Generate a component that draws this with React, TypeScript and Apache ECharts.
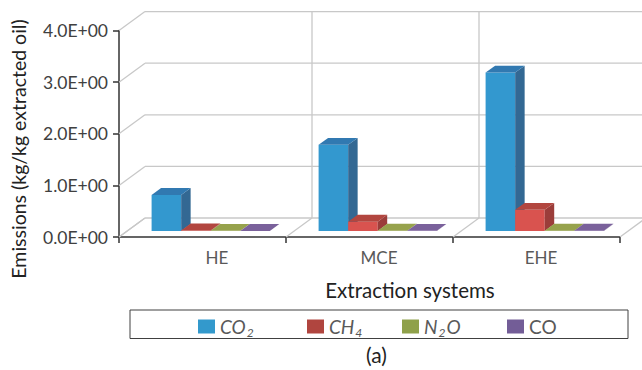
import React, { useEffect, useRef } from "react";
import * as echarts from "echarts";

const categories = ["HE", "MCE", "EHE"];
const seriesNames = ["CO2", "CH4", "N2O", "CO"];
const co2Values = [0.7, 1.67, 3.07];
const ch4Values = [0.01, 0.18, 0.41];
const n2oValues = [0.003, 0.004, 0.005];
const coValues = [0.002, 0.003, 0.004];
const yTicks = [0, 1, 2, 3, 4];

const FONT = "Lato, 'Noto Sans', sans-serif";

// face colours: front, top, side, legend
const palette = [
  { front: "#3398cf", top: "#3179b1", side: "#336893", legend: "#3399cc" },
  { front: "#d9534f", top: "#b2463f", side: "#9b3d3a", legend: "#b0453f" },
  { front: "#a6b55a", top: "#96a24c", side: "#7e8a3e", legend: "#8fa14a" },
  { front: "#8a6fae", top: "#7a619b", side: "#654f82", legend: "#735d97" },
];

const DEPTH_X = 26;
const DEPTH_Y = -19;
const BAR_FRONT = 0.316;
const BAR_DEPTH = 0.365;
const BAR_FRAC = 0.177;

export default function App() {
  const ref = useRef<HTMLDivElement>(null);
  useEffect(() => {
    if (!ref.current) return;
    const chart = echarts.init(ref.current, null, { renderer: "svg" });
    const allValues = [co2Values, ch4Values, n2oValues, coValues];

    const barSeries = seriesNames.map((name, gi) => ({
      type: "custom",
      name,
      coordinateSystem: "cartesian2d",
      clip: false,
      z: 3 + gi,
      itemStyle: { color: palette[gi].legend },
      encode: { x: 0, y: 1 },
      data: allValues[gi].map((v, i) => [i, v]),
      renderItem: (params: any, api: any) => {
        const ci = api.value(0);
        const v = api.value(1);
        const base = api.coord([ci, 0]);
        const top = api.coord([ci, v]);
        const w = api.size([1, 0])[0];
        const bw = w * BAR_FRAC;
        const x = base[0] - 2 * bw + gi * bw + DEPTH_X * BAR_FRONT;
        const yb = base[1] + DEPTH_Y * BAR_FRONT;
        const yt = top[1] + DEPTH_Y * BAR_FRONT;
        const ddx = DEPTH_X * BAR_DEPTH;
        const ddy = DEPTH_Y * BAR_DEPTH;
        const c = palette[gi];
        return {
          type: "group",
          children: [
            {
              type: "rect",
              shape: { x, y: yt, width: bw, height: yb - yt },
              style: { fill: c.front },
            },
            {
              type: "polygon",
              shape: {
                points: [
                  [x + bw, yt],
                  [x + bw + ddx, yt + ddy],
                  [x + bw + ddx, yb + ddy],
                  [x + bw, yb],
                ],
              },
              style: { fill: c.side },
            },
            {
              type: "polygon",
              shape: {
                points: [
                  [x, yt],
                  [x + bw, yt],
                  [x + bw + ddx, yt + ddy],
                  [x + ddx, yt + ddy],
                ],
              },
              style: { fill: c.top },
            },
          ],
        };
      },
    }));

    const gridStroke = { stroke: "#c8c8c8", lineWidth: 1.3 };

    const wallH = {
      type: "custom",
      name: "wallH",
      coordinateSystem: "cartesian2d",
      clip: false,
      silent: true,
      z: 1,
      encode: { x: 0, y: 1 },
      data: yTicks.map((v) => [0, v]),
      renderItem: (params: any, api: any) => {
        const v = api.value(1);
        const p = api.coord([0, v]);
        const w = api.size([1, 0])[0];
        const x0 = p[0] - w / 2;
        const xEnd = x0 + w * categories.length;
        return {
          type: "group",
          children: [
            {
              type: "line",
              shape: { x1: x0, y1: p[1], x2: x0 + DEPTH_X, y2: p[1] + DEPTH_Y },
              style: gridStroke,
            },
            {
              type: "line",
              shape: {
                x1: x0 + DEPTH_X,
                y1: p[1] + DEPTH_Y,
                x2: xEnd + DEPTH_X,
                y2: p[1] + DEPTH_Y,
              },
              style: gridStroke,
            },
          ],
        };
      },
    };

    const wallV = {
      type: "custom",
      name: "wallV",
      coordinateSystem: "cartesian2d",
      clip: false,
      silent: true,
      z: 1,
      encode: { x: 0, y: 1 },
      data: [0, 1, 2, 3].map((k) => [0, 0, k]),
      renderItem: (params: any, api: any) => {
        const k = api.value(2);
        const p0 = api.coord([0, yTicks[0]]);
        const pTop = api.coord([0, yTicks[yTicks.length - 1]]);
        const w = api.size([1, 0])[0];
        const xk = p0[0] - w / 2 + k * w;
        const children: any[] = [
          {
            type: "line",
            shape: { x1: xk, y1: p0[1], x2: xk + DEPTH_X, y2: p0[1] + DEPTH_Y },
            style: gridStroke,
          },
        ];
        if (k > 0) {
          children.push({
            type: "line",
            shape: {
              x1: xk + DEPTH_X,
              y1: p0[1] + DEPTH_Y,
              x2: xk + DEPTH_X,
              y2: pTop[1] + DEPTH_Y,
            },
            style: gridStroke,
          });
        }
        return { type: "group", children };
      },
    };

    const LF = 19;
    const legendText = {
      fontFamily: FONT,
      fontSize: LF,
      color: "#595959",
      rich: {
        i: { fontFamily: FONT, fontSize: LF, fontStyle: "italic", color: "#595959" },
        n: { fontFamily: FONT, fontSize: LF, color: "#595959" },
        s: {
          fontFamily: FONT,
          fontSize: 12,
          fontStyle: "italic",
          color: "#595959",
          verticalAlign: "bottom",
          padding: [0, 1, -2, 1],
        },
      },
    };
    const legendFormat = (name: string) => {
      if (name === "CO2") return "{i|CO}{s|2}";
      if (name === "CH4") return "{i|CH}{s|4}";
      if (name === "N2O") return "{i|N}{s|2}{i|O}";
      return "{n|CO}";
    };
    const legendLefts = [198, 307, 402, 507];

    const option: any = {
      animation: false,
      backgroundColor: "#ffffff",
      textStyle: { fontFamily: FONT },
      title: {
        text: "(a)",
        left: 366,
        top: 344,
        padding: 0,
        textStyle: { fontFamily: FONT, fontSize: 21, fontWeight: "normal", color: "#222222" },
      },
      legend: seriesNames.map((name, i) => ({
        data: [name],
        left: legendLefts[i],
        top: 317,
        padding: 0,
        icon: "rect",
        itemWidth: 17,
        itemHeight: 14,
        selectedMode: false,
        formatter: legendFormat,
        textStyle: legendText,
      })),
      grid: { left: 119, right: 22, top: 30.6, bottom: 133, containLabel: false },
      xAxis: {
        type: "category",
        data: [
          { value: categories[0], textStyle: { padding: [0, 0, 0, 29] } },
          { value: categories[1], textStyle: { padding: [0, 0, 0, 19] } },
          { value: categories[2], textStyle: { padding: [0, 0, 0, 9] } },
        ],
        boundaryGap: true,
        axisLine: { show: true, lineStyle: { color: "#333333", width: 1.5 } },
        axisTick: { show: true, length: 6, lineStyle: { color: "#333333", width: 1.5 } },
        axisLabel: { fontFamily: FONT, fontSize: 17, color: "#595959", margin: 12 },
        splitLine: { show: false },
        name: "Extraction systems",
        nameLocation: "middle",
        nameGap: 42,
        nameTextStyle: {
          fontFamily: FONT,
          fontSize: 20.5,
          color: "#222222",
          padding: [0, 0, 0, 81],
        },
      },
      yAxis: {
        type: "value",
        min: 0,
        max: 4,
        interval: 1,
        axisLine: { show: true, lineStyle: { color: "#333333", width: 1.5 } },
        axisTick: { show: true, length: 6, lineStyle: { color: "#333333", width: 1.5 } },
        axisLabel: {
          fontFamily: FONT,
          fontSize: 17.5,
          color: "#404040",
          margin: 11,
          padding: [0, 0, 6, 0],
          formatter: (v: number) => v.toFixed(1) + "E+00",
        },
        splitLine: { show: false },
      },
      graphic: [
        {
          type: "rect",
          shape: { x: 130, y: 310, width: 498, height: 28.5 },
          style: { fill: "none", stroke: "#404040", lineWidth: 1 },
          silent: true,
        },
        {
          type: "text",
          x: 18,
          y: 149,
          rotation: Math.PI / 2,
          style: {
            text: "Emissions (kg/kg extracted oil)",
            fontFamily: FONT,
            fontSize: 19.5,
            fill: "#222222",
            align: "center",
            verticalAlign: "middle",
          },
        },
      ],
      series: [wallH, wallV, ...barSeries],
    };
    chart.setOption(option);
    return () => chart.dispose();
  }, []);
  return (
    <div
      ref={ref}
      style={{ position: "fixed", left: 0, top: 0, width: 642, height: 370 }}
    />
  );
}
